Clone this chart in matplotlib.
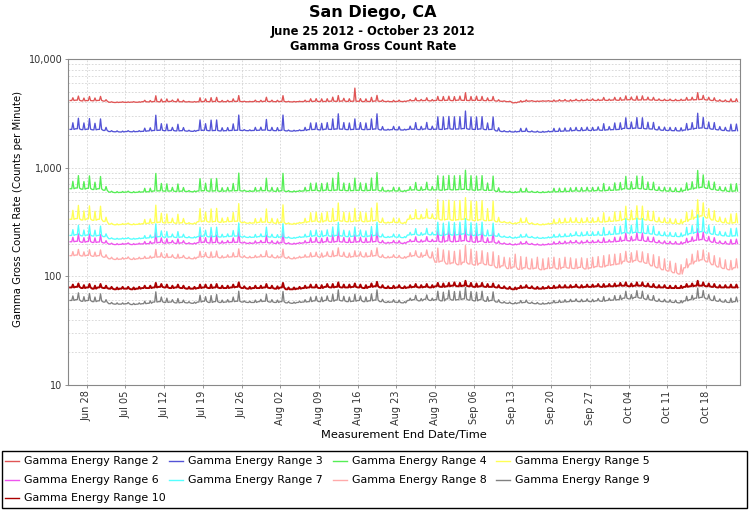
import datetime as dt
import numpy as np
import matplotlib
matplotlib.use("Agg")
import matplotlib.pyplot as plt
import matplotlib.dates as mdates
from matplotlib.ticker import FixedLocator, FuncFormatter, LogLocator, NullFormatter
from matplotlib.lines import Line2D
from matplotlib.patches import Rectangle

# ---------------- data (daily base level and daily spike peak, counts/min) ----------------
start_date = dt.datetime(2012, 6, 25)
n_days = 121

labels = ["Gamma Energy Range %d" % k for k in range(2, 11)]
colors = ["#e05555", "#5353d6", "#55ee55", "#ffff55", "#ee55ee",
          "#55ffff", "#ffaaaa", "#808080", "#aa0000"]

r2_low = [4150,4180,4120,4150,4130,4160,4100,4000,3980,4000,
          3990,4010,4000,4050,4030,4060,4040,4050,4070,4050,
          4040,4030,4020,4040,4060,4050,4070,4040,4050,4060,
          4080,4050,4040,4060,4050,4080,4060,4050,4070,4040,
          4030,4050,4060,4070,4080,4060,4070,4090,4080,4100,
          4070,4090,4080,4060,4070,4100,4080,4060,4050,4070,
          4060,4120,4140,4130,4150,4120,4160,4150,4170,4140,
          4180,4160,4150,4170,4160,4140,4150,4100,4080,4050,
          3950,4020,4080,4100,4070,4090,4100,4080,4110,4120,
          4100,4150,4130,4160,4170,4150,4180,4160,4190,4170,
          4200,4220,4180,4200,4210,4190,4170,4150,4160,4140,
          4150,4180,4200,4220,4250,4200,4150,4100,4080,4060,
          4070]
r2_high = [4400,4560,4370,4520,4380,4530,4220,4040,4020,4040,
           4030,4050,4040,4170,4150,4590,4280,4290,4190,4290,
           4160,4070,4060,4400,4300,4410,4440,4160,4170,4300,
           4610,4090,4080,4180,4170,4450,4180,4170,4600,4080,
           4070,4090,4180,4310,4320,4300,4310,4460,4610,4350,
           4310,5400,4320,4300,4440,4630,4200,4100,4170,4190,
           4100,4240,4390,4250,4400,4240,4530,4520,4550,4510,
           4560,4900,4520,4550,4530,4390,4520,4220,4120,4090,
           3990,4140,4200,4140,4110,4130,4140,4200,4230,4240,
           4220,4270,4250,4280,4300,4270,4430,4280,4440,4420,
           4580,4470,4560,4580,4460,4440,4300,4270,4280,4260,
           4270,4430,4450,4900,4630,4450,4400,4220,4200,4300,
           4310]

r3_low = [2250,2280,2240,2260,2230,2250,2200,2150,2140,2130,
          2150,2140,2150,2160,2180,2200,2210,2190,2200,2180,
          2190,2170,2160,2200,2210,2190,2200,2180,2190,2200,
          2210,2200,2190,2200,2210,2220,2200,2190,2210,2180,
          2170,2190,2200,2240,2250,2230,2260,2250,2270,2260,
          2240,2250,2260,2240,2250,2270,2230,2220,2240,2230,
          2220,2250,2260,2240,2270,2250,2260,2250,2280,2260,
          2270,2290,2260,2250,2270,2240,2250,2180,2150,2140,
          2130,2150,2160,2140,2130,2120,2140,2150,2160,2170,
          2180,2200,2190,2210,2200,2220,2210,2230,2240,2250,
          2300,2290,2310,2300,2280,2270,2230,2210,2200,2190,
          2180,2220,2260,2300,2320,2290,2260,2230,2200,2180,
          2190]
r3_high = [2590,2850,2580,2830,2560,2810,2350,2190,2180,2170,
           2190,2180,2190,2310,2330,3040,2540,2520,2350,2510,
           2340,2210,2200,2750,2540,2740,2750,2330,2340,2530,
           3050,2240,2230,2350,2360,2780,2350,2340,3050,2220,
           2210,2230,2350,2580,2590,2560,2600,2810,3130,2600,
           2580,2810,2600,2580,2810,3130,2390,2260,2400,2390,
           2260,2410,2600,2400,2610,2410,2940,2930,2960,2940,
           2950,3320,2940,2930,2950,2580,2930,2330,2190,2180,
           2170,2300,2310,2180,2170,2160,2180,2300,2310,2320,
           2330,2350,2340,2360,2350,2380,2540,2390,2580,2590,
           2880,2630,2890,2880,2620,2610,2390,2360,2350,2340,
           2330,2550,2600,3170,2900,2630,2600,2390,2350,2510,
           2520]

r4_low = [640,650,635,645,630,640,620,595,590,592,
          596,590,594,598,600,610,612,608,610,605,
          608,604,600,610,615,608,612,606,610,612,
          615,610,605,608,612,615,610,606,612,604,
          600,606,610,615,618,612,620,616,622,618,
          614,616,620,614,618,622,612,608,612,610,
          606,620,625,618,628,622,625,620,630,624,
          628,632,625,620,626,618,620,605,598,595,
          590,598,600,596,592,590,594,598,600,602,
          605,610,608,612,610,615,612,618,620,625,
          640,635,645,640,632,628,618,612,608,605,
          602,620,635,650,660,645,630,620,612,605,
          610]
r4_high = [750,845,745,840,735,830,670,607,602,604,
           608,602,606,646,648,885,716,711,659,708,
           657,616,612,793,720,790,796,654,659,716,
           892,622,617,657,661,800,659,654,887,616,
           612,618,659,720,723,716,725,801,902,723,
           718,801,725,718,803,902,661,620,661,659,
           618,670,731,667,735,672,844,837,850,842,
           848,948,844,837,845,723,837,653,610,607,
           602,646,648,608,604,602,606,646,648,650,
           653,659,657,661,659,664,716,667,725,731,
           832,743,838,832,739,735,667,661,657,653,
           650,725,743,943,858,755,737,670,661,708,
           714]

r5_low = [335,340,330,338,328,335,320,302,298,300,
          303,299,301,305,308,312,315,310,313,308,
          311,306,304,318,322,316,320,314,318,320,
          322,312,308,310,314,316,312,308,314,305,
          302,308,312,318,322,316,324,320,326,322,
          318,320,324,318,322,326,314,310,314,312,
          308,335,340,338,345,342,338,330,335,328,
          332,336,330,326,332,325,328,318,314,310,
          305,312,315,305,300,298,302,306,310,312,
          315,315,312,316,314,318,316,320,322,326,
          335,332,338,336,330,326,318,314,310,308,
          305,320,335,350,360,345,330,320,312,308,
          312]
r5_high = [405,450,400,445,397,442,350,308,304,306,
           309,305,307,334,338,452,381,375,343,373,
           341,312,310,420,390,417,422,344,349,387,
           467,318,314,340,344,417,342,338,455,311,
           308,314,342,385,390,382,392,422,473,390,
           385,422,392,385,425,473,344,316,344,342,
           314,368,411,371,417,376,507,495,502,492,
           498,530,495,489,498,420,492,349,320,316,
           311,343,346,311,306,304,308,336,341,343,
           346,346,343,347,345,349,385,352,392,397,
           442,405,446,443,402,397,349,345,341,338,
           335,390,408,507,475,420,402,352,343,375,
           380]

r6_low = [208,210,206,209,205,207,203,198,196,197,
          199,196,198,199,200,203,205,202,204,201,
          203,200,199,204,206,203,205,202,204,205,
          206,203,201,202,204,205,203,201,204,200,
          198,201,203,205,207,204,208,206,209,207,
          205,206,208,205,207,209,204,202,204,203,
          201,208,210,207,211,209,210,207,212,208,
          210,213,209,206,210,205,207,202,199,197,
          195,198,200,197,195,194,196,198,200,201,
          203,204,202,205,204,206,205,207,208,210,
          214,212,216,214,210,208,204,202,200,199,
          198,204,210,215,218,212,206,202,200,198,
          200]
r6_high = [229,246,227,245,226,242,213,202,200,201,
           203,200,202,209,210,260,226,222,214,221,
           213,204,203,239,227,238,240,212,214,226,
           264,207,205,212,214,240,213,211,261,204,
           202,205,213,226,228,224,229,241,268,228,
           226,241,229,226,242,268,214,206,214,213,
           205,218,231,217,232,219,263,259,265,260,
           263,281,261,258,263,226,259,212,203,201,
           199,208,210,201,199,198,200,208,210,211,
           213,214,212,215,214,216,226,217,229,231,
           250,233,253,250,231,229,214,212,210,209,
           208,224,231,275,255,233,227,212,210,218,
           220]

r7_low = [238,242,236,240,235,238,232,222,220,221,
          223,220,222,224,226,230,232,229,231,228,
          230,227,226,232,235,231,233,230,232,234,
          235,230,228,229,232,233,230,228,231,226,
          224,228,230,233,236,232,237,234,238,235,
          232,234,236,232,235,238,231,228,231,229,
          227,240,243,239,245,241,242,238,244,240,
          242,246,240,237,242,236,238,234,230,228,
          225,229,231,228,225,224,226,229,231,232,
          234,238,236,239,238,240,239,242,244,246,
          252,250,254,252,248,245,240,237,235,233,
          232,240,248,254,258,250,244,240,236,234,
          236]
r7_high = [269,295,267,293,266,290,246,226,224,225,
           227,224,226,237,240,304,262,259,245,258,
           244,232,231,283,266,282,284,244,246,264,
           310,235,233,243,246,284,244,242,305,231,
           228,233,244,263,267,262,268,285,314,266,
           262,285,267,262,287,314,245,233,245,243,
           232,254,275,253,277,255,315,309,317,312,
           315,340,312,308,315,267,309,248,235,233,
           230,243,245,233,230,228,231,243,245,246,
           248,257,255,258,257,259,282,261,288,290,
           340,295,343,340,293,289,259,256,254,252,
           251,283,293,368,348,295,288,259,255,276,
           278]

r8_low = [155,157,154,156,153,155,150,145,143,144,
          146,143,145,146,147,150,151,149,150,147,
          149,146,145,150,152,149,151,148,150,151,
          152,150,148,149,151,152,150,148,151,147,
          145,148,150,151,153,150,154,152,155,153,
          150,152,154,151,153,155,150,148,150,149,
          147,152,155,150,156,148,135,138,130,133,
          128,135,130,127,132,128,126,120,125,118,
          122,116,120,117,119,115,118,120,117,121,
          119,118,121,117,120,123,122,126,128,130,
          138,135,140,136,132,125,120,115,112,108,
          105,120,130,138,142,136,128,122,118,115,
          120]
r8_high = [169,177,168,176,167,175,158,150,148,149,
           151,148,150,153,154,177,165,162,158,160,
           156,151,150,170,166,168,171,155,158,165,
           179,155,153,156,159,172,158,155,178,152,
           150,153,158,165,167,164,168,172,183,167,
           164,172,168,165,173,183,158,153,158,156,
           152,165,172,165,175,168,182,175,172,170,
           175,192,178,170,172,165,168,155,150,148,
           160,152,150,145,150,145,148,150,146,150,
           148,145,148,146,150,152,155,158,160,162,
           170,165,172,168,162,158,152,145,138,132,
           128,145,160,172,175,165,155,148,142,140,
           145]

r9_low = [60,61,59,60,58.5,59.5,58,56,55.5,55.5,
          56,55,55.5,56,56.5,58,58.5,57.5,58,57,
          57.5,57,56.5,58,59,57.5,58.5,57.5,58,58.5,
          59,58,57.5,57.5,58.5,59,58,57.5,58.5,57,
          56.5,57.5,58,58.5,59.5,58.5,60,59,60.5,59.5,
          58.5,59,60,58.5,59.5,60.5,58.5,57.5,58,57.5,
          57,60,61,59.5,61.5,60,61,59.5,62,60.5,
          61,62,60.5,59.5,61,59,60,58,57,56.5,
          56,57,57.5,56.5,56,55.5,56,57,57.5,58,
          58.5,59,58.5,59,58.5,59.5,59,60,60.5,61,
          63,62,64,63,61.5,60.5,59,58.5,58,57.5,
          57,59.5,61,63,64,62,60,59,58,57.5,
          58.5]
r9_high = [66,70.5,65,69.5,64.5,69,61,57.5,57,57,
           57.5,56.5,57,59,59.5,72,64.5,63,61,62.5,
           60.5,58.5,58,67,65,66.5,68,60.5,61,64.5,
           73,59.5,59,60.5,61.5,68.5,61,60.5,72.5,58.5,
           58,59,61,64.5,65.5,64.5,66,68.5,75,65.5,
           64.5,68.5,66,64.5,69,75,61.5,59,61,60.5,
           58.5,63,67,62.5,67.5,63,73,71.5,74.5,72.5,
           73,79,72.5,71.5,73,65,72,61,58.5,58,
           57.5,60,60.5,58,57.5,57,57.5,60,60.5,61,
           61.5,62,61.5,62,61.5,62.5,65,63,66.5,67,
           73,68,74,73,67.5,66.5,62,61.5,61,60.5,
           60,65.5,67,78,74,68,66,62,61,63,
           64.5]

r10_low = [79,80,78,79,77,79,78,77,76,77,
           77,76,77,78,78,79,80,79,78,79,
           78,77,77,78,79,78,79,78,78,79,
           80,78,77,78,78,79,78,77,79,76,
           76,77,78,79,79,78,80,79,80,79,
           79,80,79,78,80,81,79,78,78,79,
           78,79,80,79,80,79,81,80,81,82,
           81,82,81,80,81,80,80,79,78,77,
           76,78,79,78,77,77,78,78,79,79,
           79,80,79,80,80,81,80,81,81,82,
           82,81,82,82,81,80,79,79,78,78,
           78,80,81,82,82,81,80,79,79,79,
           79]
r10_high = [84,86,83,85,82,85,82,80,79,80,
            80,79,80,82,82,87,85,84,82,84,
            82,80,80,84,84,84,85,82,82,84,
            88,81,80,82,82,85,82,81,87,79,
            79,80,82,84,84,83,85,85,88,84,
            84,86,84,83,86,89,83,81,82,83,
            81,83,85,83,85,83,87,86,87,88,
            87,91,87,86,87,85,86,83,81,80,
            79,82,83,81,80,80,81,82,83,83,
            83,84,83,84,84,85,85,85,86,87,
            88,86,88,88,86,85,83,83,82,82,
            82,85,86,91,88,86,85,83,83,84,
            84]

lows = [r2_low, r3_low, r4_low, r5_low, r6_low, r7_low, r8_low, r9_low, r10_low]
highs = [r2_high, r3_high, r4_high, r5_high, r6_high, r7_high, r8_high, r9_high, r10_high]

x_tick_dates = [dt.datetime(2012, 6, 28) + dt.timedelta(days=7 * k) for k in range(17)]
y_ticks = [10, 100, 1000, 10000]

# ---------------- figure ----------------
W, H = 750, 511
fig = plt.figure(figsize=(W / 100, H / 100), dpi=100)
fig.patch.set_facecolor("white")

def fx(px):
    return px / W

def fy(py):
    return 1 - py / H

ax_l, ax_r, ax_t, ax_b = 68, 740, 59, 385
ax = fig.add_axes([fx(ax_l), fy(ax_b), (ax_r - ax_l) / W, (ax_b - ax_t) / H])
ax.set_facecolor("white")

x0 = mdates.date2num(start_date)
days = np.arange(n_days, dtype=float)
# within each day: base, rise, peak, fall
offs = np.array([0.0, 0.3, 0.5, 0.7])
t = (days[:, None] + offs[None, :]).ravel() + x0

line_widths = [0.95] * 8 + [1.4]
for lo, hi, c, lw in zip(lows, highs, colors, line_widths):
    lo = np.asarray(lo, float)
    hi = np.asarray(hi, float)
    v = np.column_stack([lo, lo, hi, lo]).ravel()
    ax.plot(t, v, color=c, lw=lw)

ax.set_yscale("log")
ax.set_ylim(10, 10000)
ax.set_xlim(x0 - 0.38, x0 + 121.15)

ax.yaxis.set_major_locator(FixedLocator(y_ticks))
ax.yaxis.set_major_formatter(FuncFormatter(lambda v, p: "{:,}".format(int(round(v)))))
ax.yaxis.set_minor_locator(LogLocator(base=10, subs=range(2, 10)))
ax.yaxis.set_minor_formatter(NullFormatter())

ax.xaxis.set_major_locator(FixedLocator(mdates.date2num(x_tick_dates)))
ax.xaxis.set_major_formatter(mdates.DateFormatter("%b %d"))

grid_kw = dict(color="#d4d4d4", linestyle=(0, (2, 2)), linewidth=0.6)
ax.grid(True, which="both", axis="y", **grid_kw)
ax.grid(True, which="major", axis="x", **grid_kw)
ax.set_axisbelow(True)

ax.tick_params(axis="both", which="major", length=2, width=0.6, color="#808080",
               labelsize=7, pad=2, labelcolor="#333333")
ax.tick_params(axis="y", which="minor", length=0)
for lab in ax.get_xticklabels():
    lab.set_rotation(90)

for sp in ax.spines.values():
    sp.set_color("#888888")
    sp.set_linewidth(0.8)

# titles
fig.text(0.497, fy(13), "San Diego, CA", ha="center", va="center",
         fontsize=11.5, fontweight="bold")
fig.text(0.497, fy(31), "June 25 2012 - October 23 2012", ha="center", va="center",
         fontsize=8.3, fontweight="bold")
fig.text(0.497, fy(46), "Gamma Gross Count Rate", ha="center", va="center",
         fontsize=8.3, fontweight="bold")

# axis labels
fig.text(fx(18), fy(209), "Gamma Gross Count Rate (Counts per Minute)", rotation=90,
         ha="center", va="center", fontsize=7.3)
fig.text(fx(404), fy(435), "Measurement End Date/Time", ha="center", va="center",
         fontsize=8.2)

# legend box
fig.patches.append(Rectangle((fx(2), fy(508)), 745 / W, 57 / H, transform=fig.transFigure,
                             fill=False, edgecolor="black", linewidth=1.0))
col_text_x = [24, 188, 352, 515]
row_y = [461, 480, 498]
for i, (lab, c) in enumerate(zip(labels, colors)):
    r, cidx = divmod(i, 4)
    tx = col_text_x[cidx]
    yy = row_y[r]
    fig.lines.append(Line2D([fx(tx - 19), fx(tx - 5)], [fy(yy), fy(yy)],
                            transform=fig.transFigure, color=c, lw=1.0))
    fig.text(fx(tx), fy(yy), lab, ha="left", va="center", fontsize=7.9)

fig.savefig("out.png", dpi=100, facecolor="white")
